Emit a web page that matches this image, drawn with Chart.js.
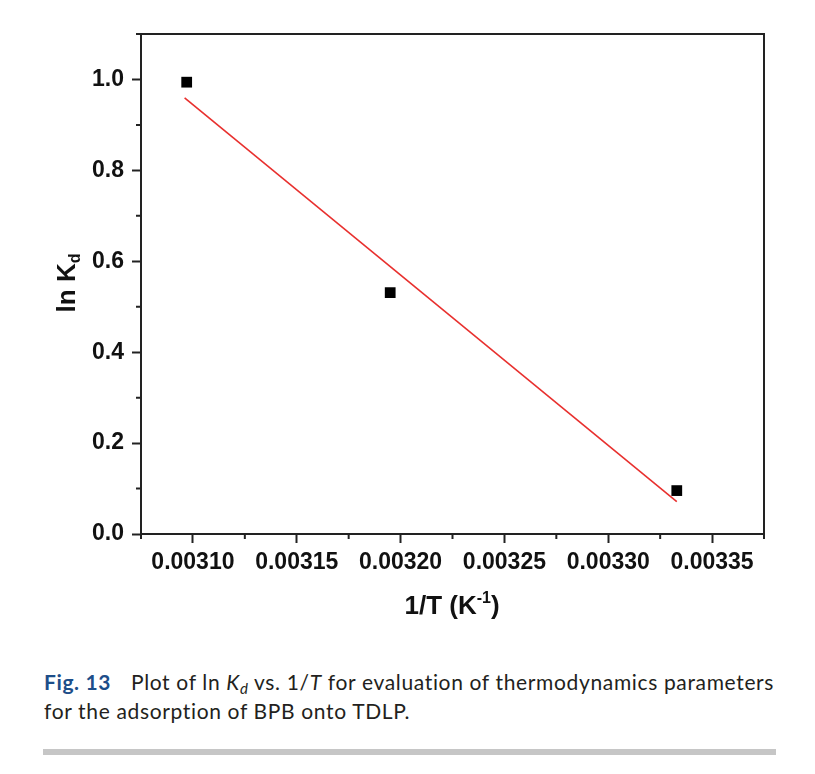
<!DOCTYPE html>
<html>
<head>
<meta charset="utf-8">
<script src="https://cdn.jsdelivr.net/npm/chart.js@4.4.1/dist/chart.umd.min.js"></script>
<style>
  body { margin: 0; background: #fff; width: 815px; height: 774px; position: relative; overflow: hidden; }
  #wrap { position: absolute; left: 0; top: 0; width: 815px; height: 640px; }
  .caption { position: absolute; left: 44px; top: 667px; width: 770px; font-family: Lato, "Liberation Sans Narrow", sans-serif; font-size: 21px; letter-spacing: 0.65px; line-height: 29px; color: #231f20; white-space: nowrap; }
  .caption b { color: #1d4e89; margin-right: 20px; letter-spacing: 0.6px; }
  .caption sub { font-size: 15px; vertical-align: -4px; line-height: 0; }
  .rule { position: absolute; left: 43px; top: 749px; width: 733px; height: 6px; background: #c6c6c6; }
</style>
</head>
<body>
<div id="wrap"><canvas id="myChart"></canvas></div>
<div class="caption"><b>Fig. 13</b>Plot of ln <i>K<sub>d</sub></i> vs. 1/<i>T</i> for evaluation of thermodynamics parameters<br>for the adsorption of BPB onto TDLP.</div>
<div class="rule"></div>
<script>
// measured points (1/T, ln Kd)
const invT = [0.003097, 0.003195, 0.003333];
const lnKd = [0.994, 0.531, 0.0955];
// linear fit line end points
const fitX = [0.003096, 0.003333];
const fitY = [0.9596, 0.0713];
// axis ticks (major + minor)
const xTickValues = [0.003075, 0.0031, 0.003125, 0.00315, 0.003175, 0.0032, 0.003225, 0.00325, 0.003275, 0.0033, 0.003325, 0.00335, 0.003375];
const yTickValues = [0, 0.1, 0.2, 0.3, 0.4, 0.5, 0.6, 0.7, 0.8, 0.9, 1.0, 1.1];

const axisColor = '#222';
const isMajorX = v => Math.round(v * 1e6) % 50 === 0;
const isMajorY = v => Math.round(v * 10) % 2 === 0;

const framePlugin = {
    id: 'frame',
    afterDraw(chart) {
        const ctx = chart.ctx;
        const a = chart.chartArea;
        const xs = chart.scales.x;
        const ys = chart.scales.y;
        ctx.save();
        ctx.strokeStyle = axisColor;
        ctx.lineWidth = 2;
        ctx.strokeRect(a.left, a.top, a.right - a.left, a.bottom - a.top);
        // minor ticks
        ctx.beginPath();
        xs.ticks.forEach(t => {
            if (!isMajorX(t.value)) {
                const px = xs.getPixelForValue(t.value);
                ctx.moveTo(px, a.bottom);
                ctx.lineTo(px, a.bottom + 5);
            }
        });
        ys.ticks.forEach(t => {
            if (!isMajorY(t.value)) {
                const py = ys.getPixelForValue(t.value);
                ctx.moveTo(a.left, py);
                ctx.lineTo(a.left - 5, py);
            }
        });
        ctx.stroke();

        // axis titles
        ctx.fillStyle = '#111';
        ctx.textBaseline = 'alphabetic';
        const big = 'bold 26px "Liberation Sans", Arial, sans-serif';
        const small = 'bold 16px "Liberation Sans", Arial, sans-serif';
        // x title: 1/T (K-1)
        ctx.font = small;
        const p2 = '-1';
        const w2 = ctx.measureText(p2).width;
        ctx.font = big;
        const p1 = '1/T (K', p3 = ')';
        const w1 = ctx.measureText(p1).width, w3 = ctx.measureText(p3).width;
        const x0 = 452 - (w1 + w2 + w3) / 2;
        const by = 614;
        ctx.fillText(p1, x0, by);
        ctx.font = small;
        ctx.fillText(p2, x0 + w1, by - 11);
        ctx.font = big;
        ctx.fillText(p3, x0 + w1 + w2, by);

        // y title: ln Kd (rotated)
        ctx.translate(75, 283);
        ctx.rotate(-Math.PI / 2);
        ctx.font = big;
        const q1 = 'ln K';
        const wq1 = ctx.measureText(q1).width;
        ctx.font = small;
        const wq2 = ctx.measureText('d').width;
        const sx = -(wq1 + wq2) / 2;
        ctx.font = big;
        ctx.fillText(q1, sx, 0);
        ctx.font = small;
        ctx.fillText('d', sx + wq1, 5);
        ctx.restore();
    }
};

const ctx = document.getElementById('myChart').getContext('2d');
const myChart = new Chart(ctx, {
    type: 'scatter',
    data: {
        datasets: [
            {
                label: 'fit',
                data: fitX.map((x, i) => ({ x: x, y: fitY[i] })),
                showLine: true,
                borderColor: '#e8302e',
                borderWidth: 1.6,
                pointRadius: 0
            },
            {
                label: 'ln Kd',
                data: invT.map((x, i) => ({ x: x, y: lnKd[i] })),
                pointStyle: 'rect',
                pointRadius: 7.6,
                backgroundColor: '#000',
                borderColor: '#000',
                borderWidth: 0
            }
        ]
    },
    options: {
        responsive: true,
        maintainAspectRatio: false,
        animation: false,
        layout: { padding: { left: 0, top: 34, right: 51, bottom: 0 } },
        plugins: { legend: { display: false }, tooltip: { enabled: false } },
        scales: {
            x: {
                type: 'linear',
                min: 0.003075,
                max: 0.003375,
                afterBuildTicks: s => { s.ticks = xTickValues.map(v => ({ value: v })); },
                afterFit: s => { s.height = 106; },
                border: { display: true, color: axisColor, width: 2 },
                grid: {
                    drawOnChartArea: false,
                    tickLength: 9,
                    tickWidth: 2,
                    tickColor: c => isMajorX(c.tick.value) ? axisColor : 'rgba(0,0,0,0)'
                },
                ticks: {
                    autoSkip: false,
                    maxRotation: 0,
                    padding: 6,
                    color: '#111',
                    font: { family: '"Liberation Sans", Arial, sans-serif', size: 23, weight: 'bold' },
                    callback: v => isMajorX(v) ? v.toFixed(5) : ''
                }
            },
            y: {
                type: 'linear',
                min: 0,
                max: 1.1,
                afterBuildTicks: s => { s.ticks = yTickValues.map(v => ({ value: v })); },
                afterFit: s => { s.width = 141; },
                border: { display: true, color: axisColor, width: 2 },
                grid: {
                    drawOnChartArea: false,
                    tickLength: 9,
                    tickWidth: 2,
                    tickColor: c => isMajorY(c.tick.value) ? axisColor : 'rgba(0,0,0,0)'
                },
                ticks: {
                    autoSkip: false,
                    padding: 8,
                    color: '#111',
                    font: { family: '"Liberation Sans", Arial, sans-serif', size: 23, weight: 'bold' },
                    callback: v => isMajorY(v) ? v.toFixed(1) : ''
                }
            }
        }
    },
    plugins: [framePlugin]
});
</script>
</body>
</html>
